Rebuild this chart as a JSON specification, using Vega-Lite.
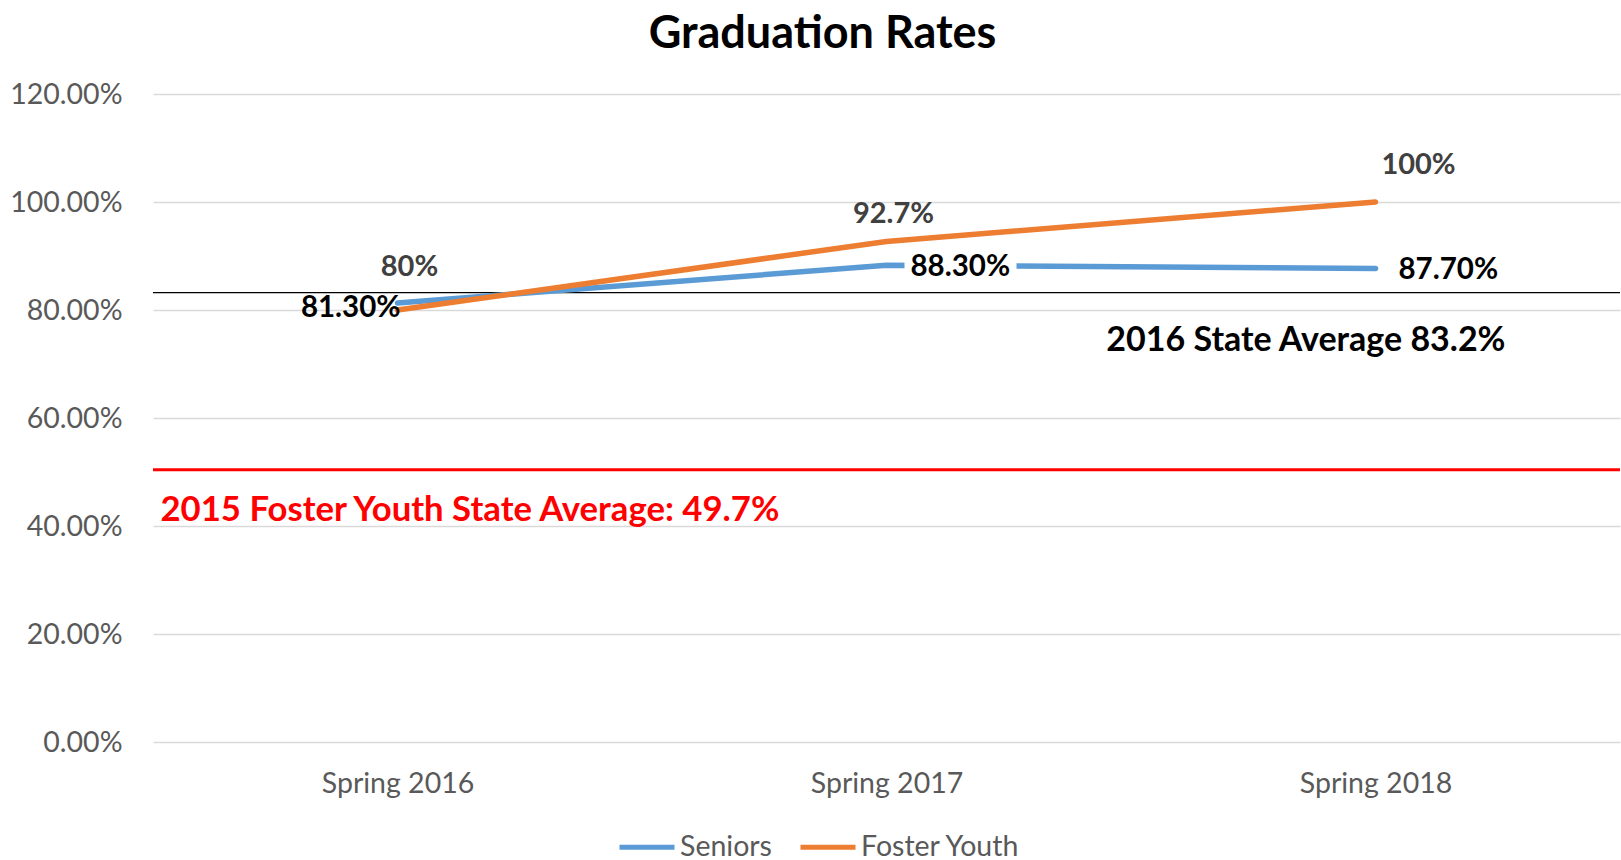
{
  "$schema": "https://vega.github.io/schema/vega-lite/v6.json",
  "width": 1467,
  "height": 648,
  "autosize": {"type": "none"},
  "padding": {"left": 153, "top": 94, "right": 1, "bottom": 118},
  "background": "white",
  "title": {
    "text": "Graduation Rates",
    "font": "Lato",
    "fontSize": 45,
    "fontWeight": "bold",
    "color": "#000000",
    "anchor": "middle",
    "dx": -64,
    "offset": 23
  },
  "config": {
    "view": {"stroke": null},
    "font": "Lato"
  },
  "datasets": {
    "rates": [
      {"period": "Spring 2016", "series": "Seniors", "rate": 81.3, "label": "81.30%"},
      {"period": "Spring 2017", "series": "Seniors", "rate": 88.3, "label": "88.30%"},
      {"period": "Spring 2018", "series": "Seniors", "rate": 87.7, "label": "87.70%"},
      {"period": "Spring 2016", "series": "Foster Youth", "rate": 80, "label": "80%"},
      {"period": "Spring 2017", "series": "Foster Youth", "rate": 92.7, "label": "92.7%"},
      {"period": "Spring 2018", "series": "Foster Youth", "rate": 100, "label": "100%"}
    ],
    "refs": [
      {"name": "state2016", "value": 83.2, "period": "Spring 2018", "label": "2016 State Average 83.2%"},
      {"name": "foster2015", "value": 50.4, "period": "Spring 2016", "label": "2015 Foster Youth State Average: 49.7%"}
    ]
  },
  "encoding": {
    "x": {
      "field": "period",
      "type": "nominal",
      "sort": ["Spring 2016", "Spring 2017", "Spring 2018"],
      "scale": {"type": "point", "padding": 0.5},
      "axis": {
        "title": null,
        "domain": false,
        "ticks": false,
        "grid": false,
        "labelAngle": 0,
        "labelFont": "Lato",
        "labelFontSize": 28.5,
        "labelColor": "#595959",
        "labelPadding": 27
      }
    },
    "y": {
      "type": "quantitative",
      "scale": {"domain": [0, 120], "nice": false},
      "axis": {
        "title": null,
        "values": [0, 20, 40, 60, 80, 100, 120],
        "labelExpr": "format(datum.value / 100, '.2%')",
        "domain": false,
        "ticks": false,
        "grid": true,
        "gridColor": "#d9d9d9",
        "gridWidth": 1.5,
        "labelFont": "Lato",
        "labelFontSize": 28.5,
        "labelColor": "#595959",
        "labelPadding": 31
      }
    }
  },
  "layer": [
    {
      "data": {"name": "refs"},
      "transform": [{"filter": "datum.name == 'foster2015'"}],
      "mark": {"type": "rule", "color": "#ff0000", "strokeWidth": 3},
      "encoding": {"y": {"field": "value", "type": "quantitative"}, "x": null}
    },
    {
      "data": {"name": "refs"},
      "transform": [{"filter": "datum.name == 'state2016'"}],
      "mark": {"type": "rule", "color": "#000000", "strokeWidth": 1.2},
      "encoding": {"y": {"field": "value", "type": "quantitative"}, "x": null}
    },
    {
      "data": {"name": "rates"},
      "mark": {"type": "line", "strokeWidth": 5.5, "strokeCap": "round", "strokeJoin": "round"},
      "encoding": {
        "y": {"field": "rate", "type": "quantitative"},
        "color": {
          "field": "series",
          "type": "nominal",
          "sort": ["Seniors", "Foster Youth"],
          "scale": {"domain": ["Seniors", "Foster Youth"], "range": ["#5b9bd5", "#ed7d31"]},
          "legend": {
            "title": null,
            "orient": "none",
            "legendX": 464,
            "legendY": 723,
            "direction": "horizontal",
            "symbolType": "stroke",
            "symbolStrokeWidth": 5,
            "symbolSize": 3025,
            "labelFont": "Lato",
            "labelFontSize": 28.5,
            "labelColor": "#595959",
            "labelOffset": 3,
            "columnPadding": 18
          }
        }
      }
    },
    {
      "data": {"name": "rates"},
      "transform": [{"filter": "datum.series == 'Seniors' && datum.period == 'Spring 2017'"}],
      "mark": {"type": "point", "filled": true, "color": "#ffffff", "opacity": 1, "size": 40000, "shape": "M0.18,-0.13H1.3V0.16H0.18Z"},
      "encoding": {"y": {"field": "rate", "type": "quantitative"}}
    },
    {
      "data": {"name": "rates"},
      "transform": [{"filter": "datum.series == 'Seniors' && datum.period == 'Spring 2016'"}],
      "mark": {"type": "text", "font": "Lato", "fontSize": 29.5, "fontWeight": "bold", "color": "#000000", "align": "right", "baseline": "middle", "dx": 3, "dy": 5},
      "encoding": {"y": {"field": "rate", "type": "quantitative"}, "text": {"field": "label"}}
    },
    {
      "data": {"name": "rates"},
      "transform": [{"filter": "datum.series == 'Seniors' && datum.period == 'Spring 2017'"}],
      "mark": {"type": "text", "font": "Lato", "fontSize": 29.5, "fontWeight": "bold", "color": "#000000", "align": "left", "baseline": "middle", "dx": 24, "dy": 2},
      "encoding": {"y": {"field": "rate", "type": "quantitative"}, "text": {"field": "label"}}
    },
    {
      "data": {"name": "rates"},
      "transform": [{"filter": "datum.series == 'Seniors' && datum.period == 'Spring 2018'"}],
      "mark": {"type": "text", "font": "Lato", "fontSize": 29.5, "fontWeight": "bold", "color": "#000000", "align": "left", "baseline": "middle", "dx": 23, "dy": 2},
      "encoding": {"y": {"field": "rate", "type": "quantitative"}, "text": {"field": "label"}}
    },
    {
      "data": {"name": "rates"},
      "transform": [{"filter": "datum.series == 'Foster Youth' && datum.period == 'Spring 2016'"}],
      "mark": {"type": "text", "font": "Lato", "fontSize": 29, "fontWeight": "bold", "color": "#404040", "align": "center", "baseline": "middle", "dx": 12, "dy": -43},
      "encoding": {"y": {"field": "rate", "type": "quantitative"}, "text": {"field": "label"}}
    },
    {
      "data": {"name": "rates"},
      "transform": [{"filter": "datum.series == 'Foster Youth' && datum.period == 'Spring 2017'"}],
      "mark": {"type": "text", "font": "Lato", "fontSize": 29, "fontWeight": "bold", "color": "#404040", "align": "center", "baseline": "middle", "dx": 7, "dy": -27},
      "encoding": {"y": {"field": "rate", "type": "quantitative"}, "text": {"field": "label"}}
    },
    {
      "data": {"name": "rates"},
      "transform": [{"filter": "datum.series == 'Foster Youth' && datum.period == 'Spring 2018'"}],
      "mark": {"type": "text", "font": "Lato", "fontSize": 29, "fontWeight": "bold", "color": "#404040", "align": "center", "baseline": "middle", "dx": 43, "dy": -37},
      "encoding": {"y": {"field": "rate", "type": "quantitative"}, "text": {"field": "label"}}
    },
    {
      "data": {"name": "refs"},
      "transform": [{"filter": "datum.name == 'state2016'"}],
      "mark": {"type": "text", "font": "Lato", "fontSize": 34, "fontWeight": "bold", "color": "#000000", "align": "right", "baseline": "middle", "dx": 130, "dy": 48},
      "encoding": {"y": {"field": "value", "type": "quantitative"}, "text": {"field": "label"}}
    },
    {
      "data": {"name": "refs"},
      "transform": [{"filter": "datum.name == 'foster2015'"}],
      "mark": {"type": "text", "font": "Lato", "fontSize": 34.7, "fontWeight": "bold", "color": "#ff0000", "align": "left", "baseline": "middle", "dx": -237, "dy": 41},
      "encoding": {"y": {"field": "value", "type": "quantitative"}, "text": {"field": "label"}}
    }
  ]
}
